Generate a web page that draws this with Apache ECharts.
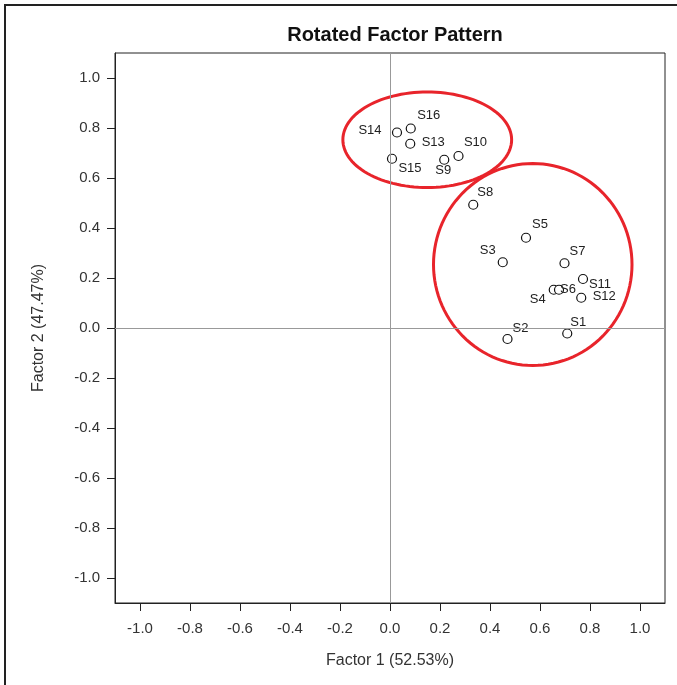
<!DOCTYPE html>
<html>
<head>
<meta charset="utf-8">
<script src="https://cdn.jsdelivr.net/npm/echarts@6/dist/echarts.min.js"></script>
<style>
html,body{margin:0;padding:0;background:#fff;}
#chart{width:677px;height:685px;}
</style>
</head>
<body>
<div id="chart"></div>
<script>
// ---- data ----
const names   = ['S1','S2','S3','S4','S5','S6','S7','S8','S9','S10','S11','S12','S13','S14','S15','S16'];
const factor1 = [0.709,0.470,0.451,0.655,0.544,0.676,0.698,0.333,0.217,0.274,0.772,0.765,0.081,0.028,0.008,0.083];
const factor2 = [-0.022,-0.044,0.263,0.153,0.361,0.153,0.259,0.493,0.673,0.688,0.196,0.121,0.737,0.782,0.677,0.798];
const tickValues = [-1.0,-0.8,-0.6,-0.4,-0.2,0.0,0.2,0.4,0.6,0.8,1.0];
// cluster annotations: [centerX, centerY, radiusX, radiusY] in data units
const clusterUpper = [0.149, 0.753, 0.3375, 0.191];
const clusterLower = [0.571, 0.254, 0.397, 0.404];

// label placement (pixel offsets of label centre from point)
const labelOffsets = {
  S1:[11,-11], S2:[13,-11], S3:[-15,-12], S4:[-16,10], S5:[14,-13], S6:[9,0],
  S7:[13,-12], S8:[12,-12], S9:[-1,11], S10:[17,-14], S11:[17,5], S12:[23,-1],
  S13:[23,-1], S14:[-27,-2], S15:[18,10], S16:[18,-13]
};

const chart = echarts.init(document.getElementById('chart'), null, {renderer:'canvas'});
const FONT = '"Liberation Sans", Arial, sans-serif';

const points = names.map((n,i)=>({
  name:n,
  value:[factor1[i], factor2[i]],
  label:{offset: labelOffsets[n]}
}));

function ellipseItem(params, api){
  const cx = api.value(0), cy = api.value(1), rx = api.value(2), ry = api.value(3);
  const pts = [];
  const N = 120;
  for (let k=0;k<N;k++){
    const t = 2*Math.PI*k/N;
    pts.push(api.coord([cx + rx*Math.cos(t), cy + ry*Math.sin(t)]));
  }
  return {
    type:'polygon',
    shape:{points:pts},
    style:{fill:'none', stroke:'#e8242b', lineWidth:3}
  };
}

const axisCommon = {
  type:'value', min:-1.1, max:1.1,
  axisLine:{show:true, onZero:false, lineStyle:{color:'#222', width:1}},
  axisTick:{show:true, customValues: tickValues, length:8, inside:false, lineStyle:{color:'#222'}},
  splitLine:{show:false},
  nameLocation:'middle',
  nameTextStyle:{fontFamily:FONT, fontSize:16, color:'#333'}
};

chart.setOption({
  animation:false,
  backgroundColor:'#fff',
  title:{
    text:'Rotated Factor Pattern',
    left:390, top:20, textAlign:'center',
    textStyle:{fontFamily:FONT, fontSize:20, fontWeight:'bold', color:'#111'}
  },
  graphic:[{
    type:'polyline',
    shape:{points:[[5,690],[5,5],[690,5]]},
    style:{stroke:'#222', lineWidth:2, fill:'none'},
    silent:true
  }],
  grid:{left:115, top:53, width:550, height:550, show:true, borderColor:'#222', borderWidth:1, backgroundColor:'#fff'},
  xAxis:Object.assign({}, axisCommon, {
    name:'Factor 1 (52.53%)', nameGap:50,
    axisLabel:{customValues: tickValues, margin:18, fontFamily:FONT, fontSize:15, color:'#333',
      formatter:v=>v.toFixed(1)}
  }),
  yAxis:Object.assign({}, axisCommon, {
    name:'Factor 2 (47.47%)', nameGap:68,
    axisLabel:{customValues: tickValues, margin:15, fontFamily:FONT, fontSize:15, color:'#333',
      formatter:v=>v.toFixed(1)}
  }),
  series:[
    {
      type:'scatter',
      data:points,
      symbol:'circle', symbolSize:9,
      itemStyle:{color:'#fff', borderColor:'#111', borderWidth:1.2, opacity:1},
      label:{show:true, position:'inside', formatter:'{b}', fontFamily:FONT, fontSize:13, color:'#222',
        align:'center', verticalAlign:'middle'},
      markLine:{
        silent:true, symbol:'none', animation:false,
        label:{show:false},
        lineStyle:{color:'#999', width:1, type:'solid'},
        data:[{xAxis:0},{yAxis:0}]
      },
      z:3
    },
    {
      type:'custom',
      renderItem:ellipseItem,
      data:[clusterUpper, clusterLower],
      silent:true,
      z:4
    }
  ]
});
</script>
</body>
</html>
